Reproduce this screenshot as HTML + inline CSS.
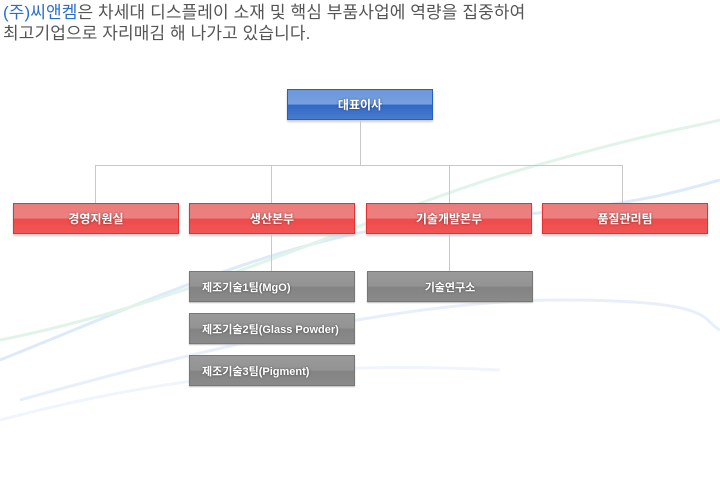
<!DOCTYPE html>
<html><head><meta charset="utf-8"><style>
body{margin:0;width:720px;height:481px;background:#fff;position:relative;overflow:hidden;font-family:"Liberation Sans","Noto Sans CJK KR",sans-serif}
.t{position:absolute;left:3px;font-size:17px;color:#555;letter-spacing:0.1px;line-height:22px;white-space:nowrap}
.b{position:absolute;box-sizing:border-box;height:31px;color:#fff;font-size:12px;font-weight:bold;display:flex;align-items:center;justify-content:center;text-shadow:0 0 2px rgba(0,0,0,.5)}
.r{border:1px solid #e83030;background:linear-gradient(to bottom,#eb7c7c 0%,#ec8080 50%,#ef4a4a 51%,#f05656 100%);width:166px;top:203px;box-shadow:0 2px 2px #ccc}
.g{border:1px solid #777;background:linear-gradient(to bottom,#9a9a9a 0%,#939393 50%,#838383 51%,#8a8a8a 100%);width:166px;box-shadow:0 1px 1px #bbb;font-size:11px}
.l{position:absolute;background:#c8c8c8}
.lt{justify-content:flex-start;padding-left:12px}
</style></head><body>
<svg style="position:absolute;left:0;top:0" width="720" height="481">
<g fill="none" stroke-width="3" opacity=".35">
<path d="M0 360 C150 300 300 230 450 220 S650 200 720 180" stroke="#9fc4f0"/>
<path d="M0 340 C200 300 380 210 520 170 S680 130 720 120" stroke="#a8e0c4"/>
<path d="M20 400 C200 350 400 300 560 300 S700 320 720 330" stroke="#c0d4f4"/>
<path d="M0 420 C150 380 300 360 500 370" stroke="#d4e4f8"/>
</g></svg>
<div class="t" style="top:2px"><span style="color:#2a6dd0">(주)씨앤켐</span>은 차세대 디스플레이 소재 및 핵심 부품사업에 역량을 집중하여</div>
<div class="t" style="top:23px">최고기업으로 자리매김 해 나가고 있습니다.</div>
<div class="l" style="left:360px;top:120px;width:1px;height:45px"></div>
<div class="l" style="left:95px;top:165px;width:528px;height:1px"></div>
<div class="l" style="left:95px;top:165px;width:1px;height:38px"></div>
<div class="l" style="left:271px;top:165px;width:1px;height:106px"></div>
<div class="l" style="left:449px;top:165px;width:1px;height:106px"></div>
<div class="l" style="left:622px;top:165px;width:1px;height:38px"></div>
<div class="b" style="left:287px;top:89px;width:146px;border:1px solid #2a5cc8;background:linear-gradient(to bottom,#6c98dc 0%,#76a0de 50%,#3068c8 51%,#4a7ccc 100%);box-shadow:0 2px 2px #ccc">대표이사</div>
<div class="b r" style="left:13px">경영지원실</div>
<div class="b r" style="left:189px">생산본부</div>
<div class="b r" style="left:366px">기술개발본부</div>
<div class="b r" style="left:542px">품질관리팀</div>
<div class="b g lt" style="left:189px;top:271px">제조기술1팀(MgO)</div>
<div class="b g" style="left:367px;top:271px">기술연구소</div>
<div class="b g lt" style="left:189px;top:313px">제조기술2팀(Glass Powder)</div>
<div class="b g lt" style="left:189px;top:355px">제조기술3팀(Pigment)</div>
</body></html>
